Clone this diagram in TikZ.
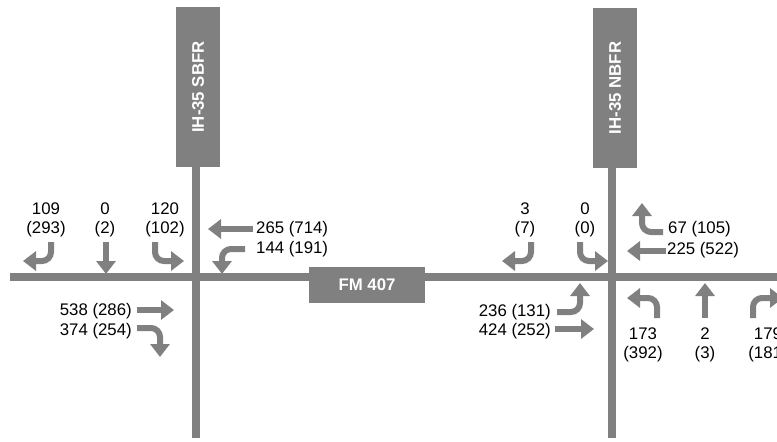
\documentclass[tikz,border=0pt]{standalone}
\usepackage{fontspec}
\setmainfont{Liberation Sans}
\usetikzlibrary{arrows.meta}
\definecolor{roadgray}{HTML}{808080}

\begin{document}
\begin{tikzpicture}[x=1pt, y=-1pt,
    road/.style={draw=roadgray, line width=8pt},
    roadname/.style={fill=roadgray, text=white, inner sep=0pt,
        font=\fontsize{16.8}{18}\selectfont\bfseries},
    turn/.style={draw=roadgray, line width=6pt, rounded corners=9pt,
        -{Triangle[width=19pt,length=13pt]}},
    vol/.style={font=\fontsize{16.8}{19.5}\selectfont, align=center, inner sep=0pt}]
    \clip (0,0) rectangle (777,442);
    \draw[road] (10,277) -- (777,277);
    \draw[road] (196,160) -- (196,438);
    \draw[road] (611.5,160) -- (611.5,438);
    \node[roadname, rotate=90, minimum width=160pt, minimum height=44pt] (sbfr) at (198,87) {IH-35 SBFR};
    \node[roadname, rotate=90, minimum width=160pt, minimum height=44pt] (nbfr) at (615,88) {IH-35 NBFR};
    \node[roadname, minimum width=116pt, minimum height=36pt] (fm) at (367,285) {FM 407};

    \node[vol] (sb109) at (46,220) {109\\(293)};
    \node[vol] (sb0) at (105,220) {0\\(2)};
    \node[vol] (sb120) at (165,220) {120\\(102)};
    \draw[turn] (51,242) -- (51,261) -- (23,261);
    \draw[turn] (106,242) -- (106,274);
    \draw[turn] (155,242) -- (155,261) -- (184,261);

    \node[vol, anchor=west] (wb265) at (256,229) {265 (714)};
    \node[vol, anchor=west] (wb144) at (256,249) {144 (191)};
    \draw[turn] (253,229) -- (208,229);
    \draw[turn] (245,249) -- (222,249) -- (222,274);

    \node[vol, anchor=east] (eb538) at (132,311) {538 (286)};
    \node[vol, anchor=east] (eb374) at (132,331) {374 (254)};
    \draw[turn] (137,310) -- (174,310);
    \draw[turn] (137,328) -- (160,328) -- (160,357);

    \node[vol] (nb3) at (525,220) {3\\(7)};
    \node[vol] (nb0) at (585,220) {0\\(0)};
    \draw[turn] (531,242) -- (531,261) -- (502,261);
    \draw[turn] (580,242) -- (580,261) -- (608,261);

    \node[vol, anchor=west] (wb67) at (668,229) {67 (105)};
    \node[vol, anchor=west] (wb225) at (667,250) {225 (522)};
    \draw[turn] (663,232) -- (642,232) -- (642,203);
    \draw[turn] (666,251) -- (627,251);

    \node[vol, anchor=east] (eb236) at (551,312) {236 (131)};
    \node[vol, anchor=east] (eb424) at (551,331) {424 (252)};
    \draw[turn] (557,312) -- (580,312) -- (580,283);
    \draw[turn] (555,329) -- (594,329);

    \node[vol] (sb173) at (643,345) {173\\(392)};
    \node[vol] (sb2) at (705,345) {2\\(3)};
    \node[vol] (sb179) at (768,345) {179\\(181)};
    \draw[turn] (657,318) -- (657,298) -- (627,298);
    \draw[turn] (705,318) -- (705,283);
    \draw[turn] (753,318) -- (753,298) -- (783,298);
\end{tikzpicture}
\end{document}
